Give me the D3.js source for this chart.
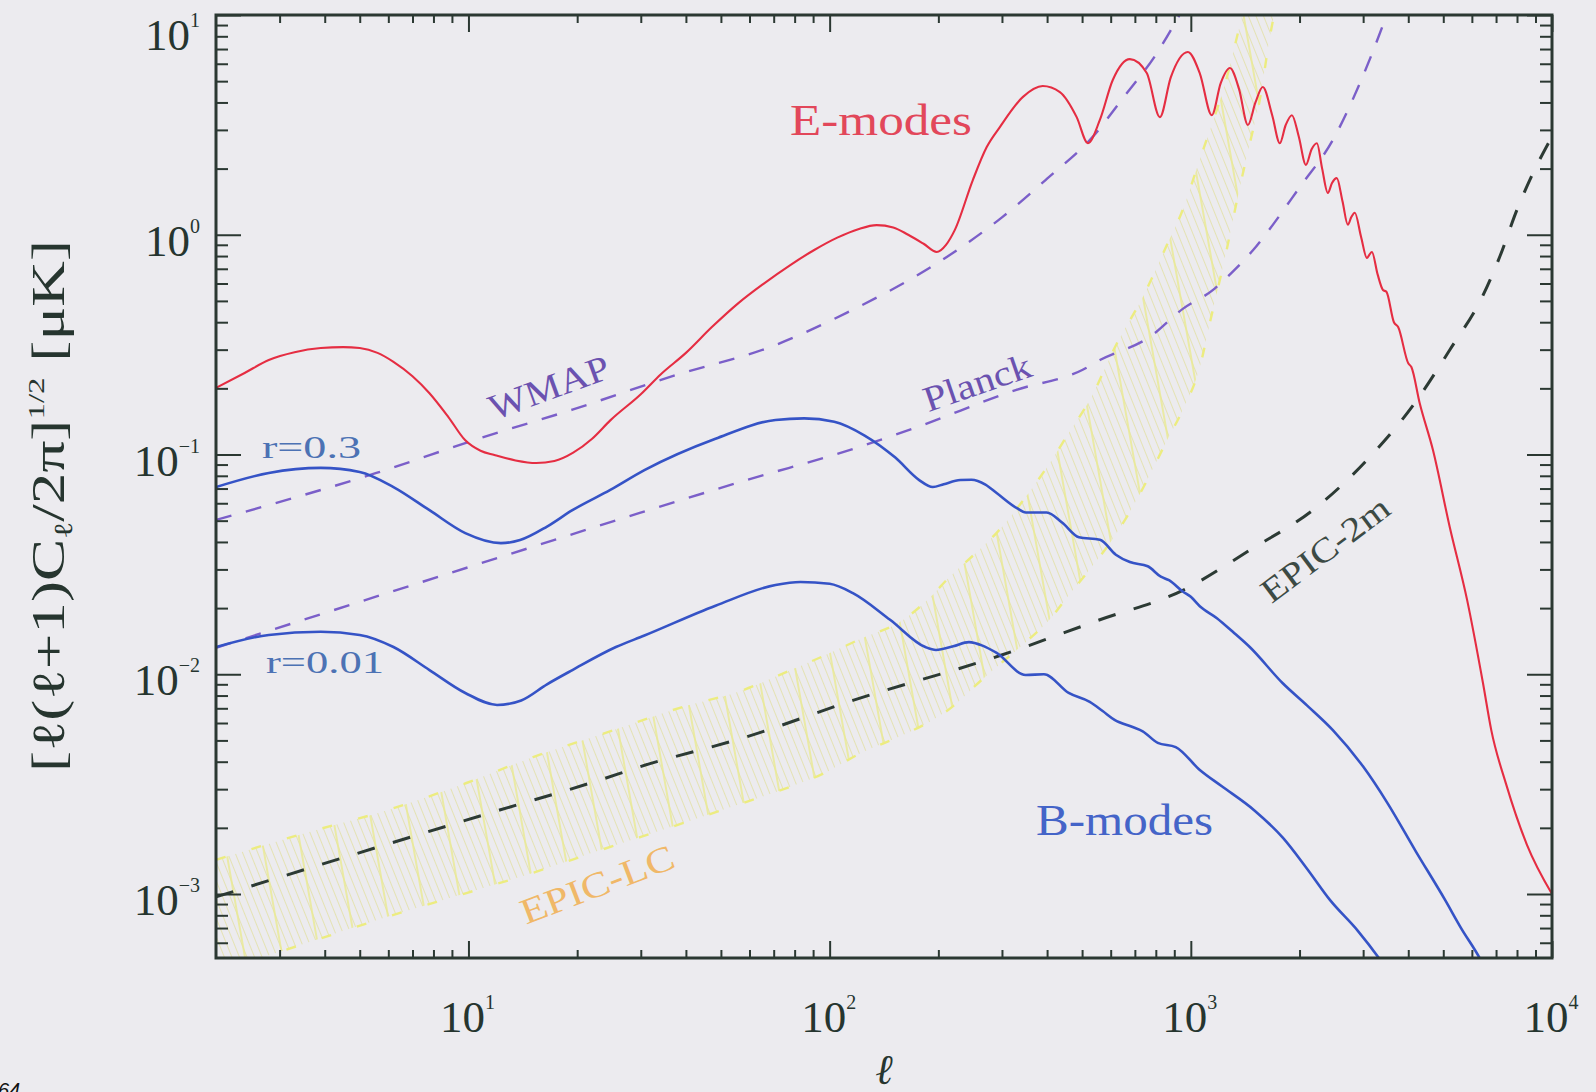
<!DOCTYPE html>
<html>
<head>
<meta charset="utf-8">
<script src="https://cdn.jsdelivr.net/npm/d3@7"></script>
<style>
  html, body { margin: 0; padding: 0; background: #ecebef; }
  svg { display: block; }
</style>
</head>
<body>
<svg id="chart" width="1596" height="1092"></svg>
<script>
// Polarisation power spectra, [ℓ, (ℓ(ℓ+1)C_ℓ/2π)^½ in μK]
const eModes = [
  [2, 0.201], [2.4, 0.235], [2.8, 0.269], [3.3, 0.292], [3.9, 0.305], [4.5, 0.308],
  [5.0, 0.305], [5.6, 0.29], [6.2, 0.264], [7.0, 0.227], [7.8, 0.190], [8.8, 0.148],
  [9.8, 0.116], [10.8, 0.104], [11.8, 0.0995], [13.5, 0.094], [15.4, 0.0915],
  [17.3, 0.0935], [19.5, 0.102], [22, 0.118], [24.7, 0.143], [30, 0.188],
  [34.1, 0.232], [40, 0.29], [47.2, 0.38], [56, 0.49], [65.3, 0.595], [78, 0.73],
  [90.4, 0.85], [105, 0.97], [120, 1.06], [135, 1.106], [150, 1.08], [165, 1.0],
  [182, 0.91], [198, 0.835], [210, 0.9], [222, 1.05], [249, 1.77], [272, 2.5],
  [296, 3.09], [343, 4.24], [389, 4.75], [434, 4.46], [483, 3.43], [519, 2.61],
  [560, 3.33], [608, 5.06], [678, 6.3], [755, 5.45], [821, 3.43], [880, 5.2],
  [981, 6.79], [1060, 5.4], [1143, 3.5], [1210, 4.9], [1283, 5.74], [1360, 4.6],
  [1439, 3.16], [1510, 4.0], [1582, 4.70], [1680, 3.5], [1764, 2.61], [1830, 3.15],
  [1905, 3.5], [1990, 2.8], [2083, 2.08], [2160, 2.45], [2234, 2.61], [2310, 2.0],
  [2395, 1.55], [2460, 1.72], [2536, 1.81], [2630, 1.42], [2722, 1.11], [2780, 1.2],
  [2845, 1.26], [2960, 0.98], [3073, 0.784], [3120, 0.81], [3172, 0.835],
  [3290, 0.66], [3404, 0.561], [3480, 0.55], [3650, 0.40], [3750, 0.38],
  [4000, 0.26], [4080, 0.25], [4303, 0.171], [4680, 0.105], [5210, 0.0468],
  [5820, 0.0218], [6440, 0.00912], [6790, 0.00557], [7460, 0.00317],
  [8530, 0.00167], [10000, 0.001]
];

const bModesR03 = [
  [2, 0.0711], [2.8, 0.0824], [3.9, 0.0869], [5.0, 0.0833], [6.2, 0.0711],
  [7.8, 0.0558], [9.8, 0.0439], [12.3, 0.0395], [13.9, 0.0408], [16.5, 0.047],
  [19.4, 0.0558], [24.7, 0.0690], [30.7, 0.0849], [48.3, 0.118], [70.8, 0.1436],
  [85, 0.146], [103, 0.141], [125, 0.122], [152, 0.0968], [177, 0.0765],
  [193, 0.0711], [207, 0.0733], [230, 0.0765], [247, 0.0768], [270, 0.073],
  [290, 0.0668], [330, 0.057], [349, 0.0545], [399, 0.0545], [440, 0.049],
  [490, 0.0420], [560, 0.0409], [620, 0.0350], [678, 0.0324], [760, 0.0310],
  [826, 0.0278], [870, 0.0268], [950, 0.0238], [1000, 0.0225], [1059, 0.0204],
  [1181, 0.0180], [1307, 0.0156], [1456, 0.0133], [1797, 0.0091], [2100, 0.0072],
  [2473, 0.00557], [3000, 0.0038], [3500, 0.0026], [4200, 0.00156],
  [5057, 0.00094], [5600, 0.0007], [6310, 0.00051], [6800, 0.0004]
];

const bModesR001 = [
  [2, 0.0133], [2.8, 0.0151], [3.9, 0.0156], [5.0, 0.0151], [6.2, 0.0133],
  [7.8, 0.01045], [9.8, 0.00822], [12.0, 0.00725], [14, 0.0076], [16.5, 0.0090],
  [19.4, 0.01045], [25.6, 0.0133], [30.7, 0.0150], [48.3, 0.0205], [70.8, 0.0255],
  [83, 0.0263], [100, 0.0258], [116, 0.0234], [147, 0.0177], [184, 0.0133],
  [197, 0.0129], [220, 0.0134], [243, 0.0140], [265, 0.0135], [290, 0.0125],
  [349, 0.00993], [392, 0.0100], [459, 0.00822], [525, 0.00748], [570, 0.0068],
  [615, 0.0062], [690, 0.00575], [736, 0.0055], [810, 0.00487], [908, 0.00466],
  [1059, 0.00367], [1216, 0.0031], [1500, 0.0024], [1800, 0.0018], [2100, 0.0013],
  [2427, 0.00094], [2900, 0.00068], [3320, 0.00051], [3600, 0.00042]
];

// Experimental noise levels
const wmapNoise = [
  [2, 0.0504], [5.56, 0.0824], [11.0, 0.120], [19.4, 0.160], [36, 0.225],
  [70.8, 0.315], [111, 0.44], [211, 0.792], [300, 1.2], [400, 1.8], [535, 2.79],
  [650, 4.2], [805, 6.7], [914, 9.5], [960, 11]
];

const planckNoise = [
  [2, 0.0132], [12.3, 0.0342], [29.8, 0.0542], [58.9, 0.0765], [114, 0.105],
  [174, 0.133], [329, 0.197], [502, 0.243], [560, 0.269], [770, 0.343],
  [950, 0.46], [1150, 0.56], [1307, 0.68], [1486, 0.85], [1623, 1.02],
  [2004, 1.65], [2473, 2.70], [2939, 4.9], [3404, 9.0], [3560, 11]
];

const epic2mNoise = [
  [2, 0.00097], [12.2, 0.00241], [23.1, 0.0033], [29.8, 0.00379], [58.9, 0.00519],
  [116, 0.0076], [298, 0.0122], [560, 0.0177], [950, 0.0241], [1456, 0.0367],
  [2234, 0.0577], [3073, 0.0944], [4227, 0.177], [5210, 0.299], [6440, 0.53],
  [7180, 0.80], [8000, 1.3], [8850, 1.9], [10000, 2.8]
];

// EPIC-LC sensitivity band: [ℓ, lower, upper]
const epicLcBand = [
  [2, 0.00044, 0.00143], [3.56, 0.000598, 0.0019], [5.93, 0.000785, 0.0024],
  [9.87, 0.00101, 0.0032], [15.1, 0.00125, 0.0042], [23.1, 0.00158, 0.0053],
  [39.2, 0.0021, 0.0071], [57.8, 0.0026, 0.00849], [77.5, 0.00307, 0.0104],
  [95, 0.0035, 0.012], [122, 0.00438, 0.0145], [160, 0.0053, 0.0177],
  [193, 0.0062, 0.0230], [211, 0.0068, 0.0269], [265, 0.0095, 0.038],
  [290, 0.0108, 0.044], [349, 0.0140, 0.064], [406, 0.0177, 0.091],
  [459, 0.0229, 0.125], [525, 0.030, 0.177], [624, 0.044, 0.32],
  [736, 0.070, 0.52], [859, 0.116, 0.9], [950, 0.16, 1.3], [1059, 0.25, 2.2],
  [1130, 0.40, 3.0], [1250, 0.82, 5.0], [1367, 1.65, 9.0], [1460, 2.65, 14],
  [1552, 4.1, 22], [1656, 8.0, 40], [1720, 11, 60]
];

const xTickPowers = [1, 2, 3, 4];
const yTickPowers = [-3, -2, -1, 0, 1];

// ---------------------------------------------------------------------------
const svg = d3.select('#chart');
const serif = "'Liberation Serif', 'DejaVu Serif', serif";
const axisColor = '#2b3832';
const L = 216, R = 1552, T = 15, B = 958;

const x = d3.scaleLog().domain([2, 1e4]).range([L, R]);
const y = d3.scaleLog().domain([Math.pow(10, -3.2912), 10]).range([B, T]);

svg.append('rect').attr('width', 1596).attr('height', 1092).attr('fill', '#ecebef');

const defs = svg.append('defs');
defs.append('clipPath').attr('id', 'plotClip')
  .append('rect').attr('x', L).attr('y', T).attr('width', R - L).attr('height', B - T);

// fine hatching of the EPIC-LC band
const fine = defs.append('pattern').attr('id', 'hatchFine')
  .attr('patternUnits', 'userSpaceOnUse').attr('width', 7).attr('height', 40)
  .attr('patternTransform', 'rotate(-22)');
fine.append('line').attr('x1', 3.5).attr('y1', 0).attr('x2', 3.5).attr('y2', 40)
  .attr('stroke', '#e4e2b4').attr('stroke-width', 1);
// brighter frame lines of the hatching
const box = defs.append('pattern').attr('id', 'hatchBox')
  .attr('patternUnits', 'userSpaceOnUse').attr('width', 37).attr('height', 40)
  .attr('patternTransform', 'rotate(-10)');
box.append('line').attr('x1', 1).attr('y1', 0).attr('x2', 1).attr('y2', 40)
  .attr('stroke', '#eaea92').attr('stroke-width', 1.6);

const plot = svg.append('g').attr('clip-path', 'url(#plotClip)');

// EPIC-LC band
const bandArea = d3.area()
  .x(d => x(d[0])).y0(d => y(d[1])).y1(d => y(d[2]))
  .curve(d3.curveMonotoneX);
plot.append('path').datum(epicLcBand).attr('d', bandArea).attr('fill', 'url(#hatchFine)');
plot.append('path').datum(epicLcBand).attr('d', bandArea).attr('fill', 'url(#hatchBox)');
const edge = acc => d3.line().x(d => x(d[0])).y(d => y(acc(d))).curve(d3.curveMonotoneX);
[d => d[1], d => d[2]].forEach(acc => {
  plot.append('path').datum(epicLcBand).attr('d', edge(acc))
    .attr('fill', 'none').attr('stroke', '#ecec80').attr('stroke-width', 2.4)
    .attr('stroke-dasharray', '10,27');
});

const line = d3.line().x(d => x(d[0])).y(d => y(d[1])).curve(d3.curveMonotoneX);

// noise curves
[[wmapNoise, '#7b5fc9', '16,15', 2.4], [planckNoise, '#7b5fc9', '16,15', 2.4],
 [epic2mNoise, '#2c3a34', '18,19', 3]].forEach(([data, col, dash, w]) => {
  plot.append('path').datum(data).attr('d', line)
    .attr('fill', 'none').attr('stroke', col).attr('stroke-width', w)
    .attr('stroke-dasharray', dash);
});

// signal curves
[[bModesR03, '#3553c6', 2.6], [bModesR001, '#3553c6', 2.6], [eModes, '#e52d42', 2.1]]
  .forEach(([data, col, w]) => {
    plot.append('path').datum(data).attr('d', line)
      .attr('fill', 'none').attr('stroke', col).attr('stroke-width', w)
      .attr('stroke-linejoin', 'round');
  });

// frame
svg.append('rect').attr('x', L).attr('y', T).attr('width', R - L).attr('height', B - T)
  .attr('fill', 'none').attr('stroke', axisColor).attr('stroke-width', 3);

// ticks
const majorX = xTickPowers.map(p => Math.pow(10, p));
const minorX = [];
for (let n = 0; n <= 3; n++) for (let k = 2; k <= 9; k++) {
  const v = k * Math.pow(10, n);
  if (v > 2 && v < 1e4) minorX.push(v);
}
const majorY = yTickPowers.map(p => Math.pow(10, p));
const minorY = [];
for (let n = -4; n <= 0; n++) for (let k = 2; k <= 9; k++) {
  const v = k * Math.pow(10, n);
  if (v > y.domain()[0] && v < 10) minorY.push(v);
}
function drawTicks(axis, tr) {
  const g = svg.append('g').attr('transform', tr).call(axis.tickFormat(() => '').tickSizeOuter(0));
  g.select('.domain').remove();
  g.selectAll('line').attr('stroke', axisColor).attr('stroke-width', 2);
}
drawTicks(d3.axisBottom(x).tickValues(majorX).tickSize(-17), `translate(0,${B})`);
drawTicks(d3.axisBottom(x).tickValues(minorX).tickSize(-8), `translate(0,${B})`);
drawTicks(d3.axisTop(x).tickValues(majorX).tickSize(-17), `translate(0,${T})`);
drawTicks(d3.axisTop(x).tickValues(minorX).tickSize(-8), `translate(0,${T})`);
drawTicks(d3.axisLeft(y).tickValues(majorY).tickSize(-25), `translate(${L},0)`);
drawTicks(d3.axisLeft(y).tickValues(minorY).tickSize(-12), `translate(${L},0)`);
drawTicks(d3.axisRight(y).tickValues(majorY).tickSize(-25), `translate(${R},0)`);
drawTicks(d3.axisRight(y).tickValues(minorY).tickSize(-12), `translate(${R},0)`);

const expText = p => (p < 0 ? '\u2212' + (-p) : String(p));

// y tick labels
svg.append('g').selectAll('text').data(yTickPowers).join('text')
  .attr('x', 200).attr('y', p => Math.max(y(Math.pow(10, p)) + 21, 50))
  .attr('text-anchor', 'end').attr('font-family', serif).attr('font-size', 45)
  .attr('fill', '#26352f')
  .each(function (p) {
    const t = d3.select(this);
    t.append('tspan').text('10');
    t.append('tspan').attr('dy', -23).attr('font-size', 20).text(expText(p));
  });

// x tick labels
svg.append('g').selectAll('text').data(xTickPowers).join('text')
  .attr('x', p => x(Math.pow(10, p)) - 1).attr('y', 1032)
  .attr('text-anchor', 'middle').attr('font-family', serif).attr('font-size', 45)
  .attr('fill', '#26352f')
  .each(function (p) {
    const t = d3.select(this);
    t.append('tspan').text('10');
    t.append('tspan').attr('dy', -23).attr('font-size', 20).text(expText(p));
  });

// axis titles
svg.append('text').attr('x', (L + R) / 2).attr('y', 1084)
  .attr('text-anchor', 'middle').attr('font-family', serif).attr('font-size', 42)
  .attr('font-style', 'italic').attr('fill', '#26352f').text('ℓ');

const yt = svg.append('text').attr('transform', 'translate(64,506) rotate(-90)')
  .attr('text-anchor', 'middle').attr('font-family', serif).attr('font-size', 46)
  .attr('fill', '#26352f').attr('textLength', 532).attr('lengthAdjust', 'spacingAndGlyphs');
yt.append('tspan').text('[ℓ(ℓ+1)C');
yt.append('tspan').attr('font-size', 26).attr('dy', 8).text('ℓ');
yt.append('tspan').attr('dy', -8).text('/2π]');
yt.append('tspan').attr('font-size', 24).attr('dy', -20).text('1/2');
yt.append('tspan').attr('dy', 20).text('\u00a0[μK]');

// curve labels
function label(txt, x0, y0, opts) {
  const t = svg.append('text').attr('font-family', serif)
    .attr('font-size', opts.size).attr('fill', opts.color).text(txt);
  if (opts.angle !== undefined) {
    t.attr('transform', `translate(${x0},${y0}) rotate(${opts.angle})`)
      .attr('text-anchor', 'middle').attr('dy', '0.35em');
  } else {
    t.attr('x', x0).attr('y', y0);
  }
  if (opts.len) t.attr('textLength', opts.len).attr('lengthAdjust', 'spacingAndGlyphs');
  return t;
}
label('E-modes', 790, 135, { size: 44, color: '#e2475a', len: 182 });
label('B-modes', 1036, 835, { size: 44, color: '#4464c8', len: 177 });
label('r=0.3', 262, 458, { size: 32, color: '#4c72b4', len: 99 });
label('r=0.01', 266, 673, { size: 32, color: '#4c72b4', len: 118 });
label('WMAP', 549, 387, { size: 36, color: '#6b52b0', angle: -20, len: 126 });
label('Planck', 977, 382, { size: 36, color: '#6b52b0', angle: -19, len: 112 });
label('EPIC-2m', 1325, 549, { size: 34, color: '#3c4a44', angle: -37, len: 152 });
label('EPIC-LC', 597, 884, { size: 36, color: '#f0b868', angle: -21, len: 162 });

// page number fragment at the lower-left corner
svg.append('text').attr('x', -2).attr('y', 1097).attr('font-family', "'Liberation Sans', sans-serif")
  .attr('font-size', 20).attr('font-style', 'italic').attr('fill', '#111').text('64');
</script>
</body>
</html>
